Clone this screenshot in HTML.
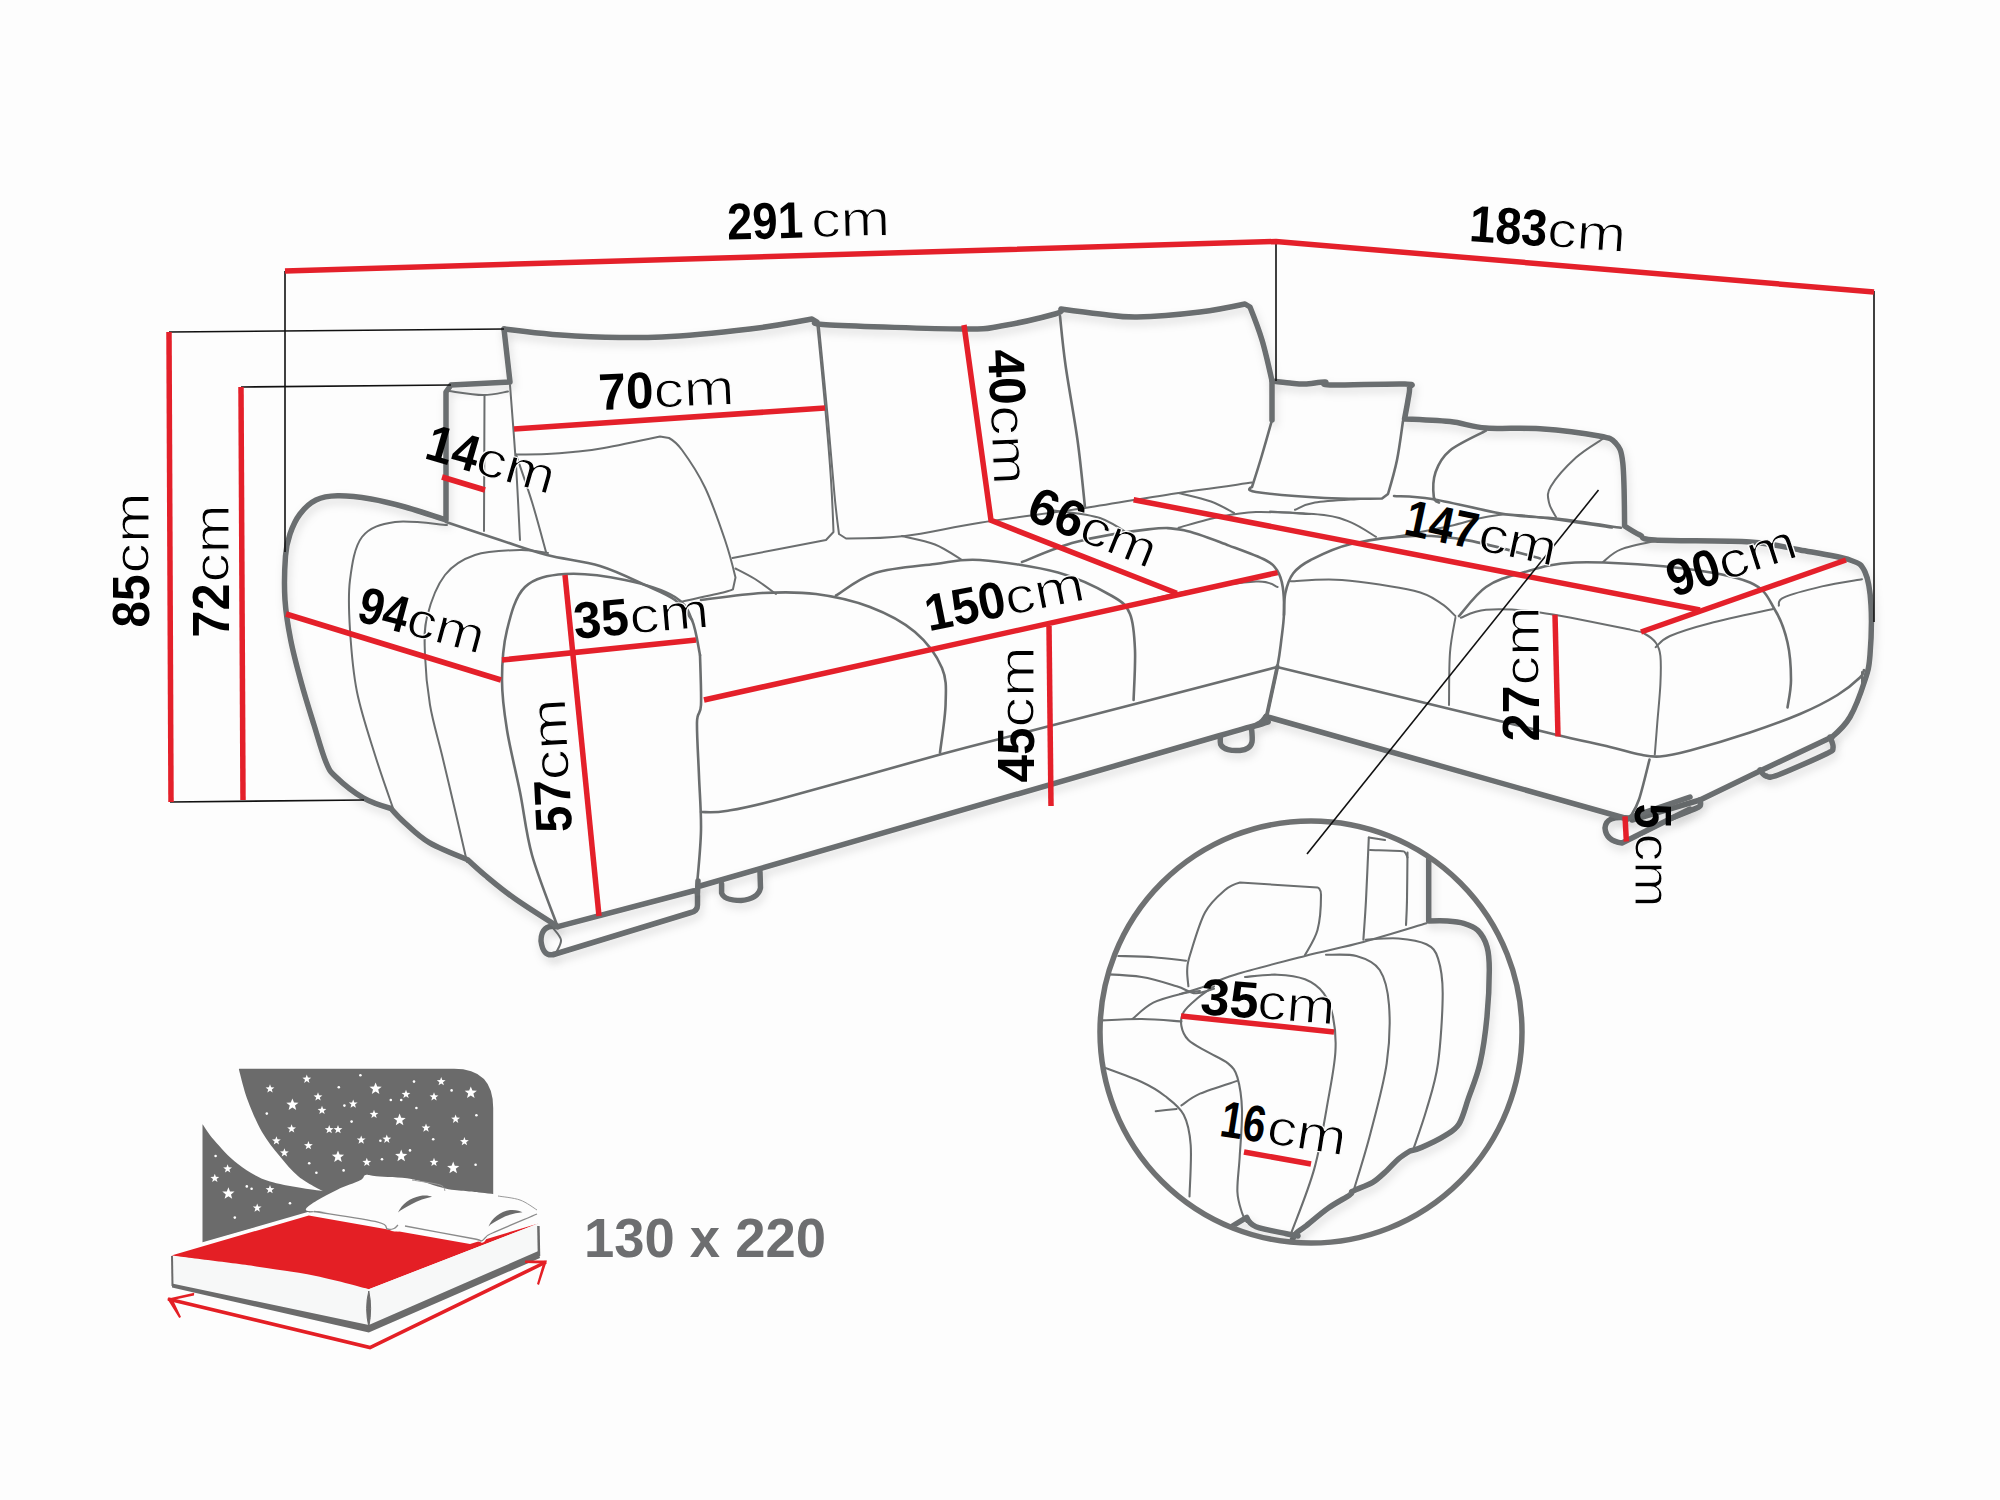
<!DOCTYPE html>
<html><head><meta charset="utf-8">
<style>
html,body{margin:0;padding:0;background:#fdfdfd;width:2000px;height:1500px;overflow:hidden}
svg{display:block}
text{font-family:"Liberation Sans",sans-serif;fill:#000}
.b{font-weight:bold}
.cm{stroke:#fdfdfd;stroke-width:1.1}
.g{fill:none;stroke:#6b6e6f;stroke-linecap:round;stroke-linejoin:round}
.t{stroke-width:5.5;filter:url(#sh)}
.m{stroke-width:2.6}
.s{stroke-width:2}
.c2{stroke-width:2.1}
.c3{stroke-width:3.8}
.r{fill:none;stroke:#e4202a;stroke-width:5.5;stroke-linecap:butt}
.k{fill:none;stroke:#111;stroke-width:1.6}
</style></head>
<body>
<svg width="2000" height="1500" viewBox="0 0 2000 1500">
<defs><filter id="sh" filterUnits="userSpaceOnUse" x="0" y="0" width="2000" height="1500"><feDropShadow dx="2" dy="5" stdDeviation="4" flood-color="#000" flood-opacity="0.13"/></filter></defs>
<rect width="2000" height="1500" fill="#fdfdfd"/>
<g id="sofa"><path class="g t" d="M504 329 C504 329 548.7 334.7 575 336 C601.3 337.3 632.8 338.2 662 337 C691.2 335.8 725 332 750 329 C775 326 812 319 812 319 C812 319 817 322 817 322 C817 322 805.8 323.8 830 325 C854.2 326.2 933.5 328.8 962 329 C990.5 329.2 985.5 328.5 1001 326 C1016.5 323.5 1045 316.8 1055 314 C1065 311.2 1061 309 1061 309 C1061 309 1087.3 312.7 1100 314 C1112.7 315.3 1120.3 317.3 1137 317 C1153.7 316.7 1182 314.2 1200 312 C1218 309.8 1245 304 1245 304 C1245 304 1250 307 1250 307 C1250 307 1258.3 327.7 1262 340 C1265.7 352.3 1272 381 1272 381 C1272 381 1284.5 382.5 1290 383 C1295.5 383.5 1299.2 384.2 1305 384 C1310.8 383.8 1320.8 381.8 1325 382 C1329.2 382.2 1316.7 384.7 1330 385 C1343.3 385.3 1391.8 383.5 1405 384 C1418.2 384.5 1409 385.3 1409.5 388 C1410 390.7 1408.8 394.8 1408 400 C1407.2 405.2 1404.5 419 1404.5 419 C1404.5 419 1436.4 420.1 1450 421.6 C1463.6 423.1 1471 426.8 1486 428 C1501 429.2 1521.2 427.5 1540 428.8 C1558.8 430.1 1586.4 433.6 1599 436 C1611.6 438.4 1611.6 438.5 1615.6 443 C1619.6 447.5 1621.3 449.2 1622.8 463 C1624.3 476.8 1624.6 526 1624.6 526 C1624.6 526 1634.9 532.7 1640 535 C1645.1 537.3 1636.7 538.8 1655 540 C1673.3 541.2 1725.8 540.3 1750 542 C1774.2 543.7 1783.3 547 1800 550 C1816.7 553 1839.2 556.3 1850 560 C1860.8 563.7 1861.5 564.5 1865 572 C1868.5 579.5 1870.2 591.2 1871 605 C1871.8 618.8 1871 642.5 1870 655 C1869 667.5 1868.3 669.7 1865 680 C1861.7 690.3 1855.5 707.5 1850 717 C1844.5 726.5 1832 737 1832 737"/><path class="g t" d="M1832 737 L1762 770 L1700 800 L1632 820"/><path class="g t" d="M1830 737 C1830 737 1833.7 745.2 1833 748 C1832.3 750.8 1835.2 749.5 1826 754 C1816.8 758.5 1788 771.3 1778 775 C1768 778.7 1769 776.8 1766 776 C1763 775.2 1760 770 1760 770"/><path class="g t" d="M1700 800 C1700 800 1701.3 804.3 1700 806 C1698.7 807.7 1696.7 808 1692 810 C1687.3 812 1672 818 1672 818"/><path class="g t" d="M1628 818 Q1606 815 1605 828 Q1606 841 1622 843 L1690 809"/><path class="g t" d="M1631 817 L1690 797"/><path class="g t" d="M1628 819 L1266 716.5"/><path class="g t" d="M1266 716.5 C1266 716.5 1262.7 721.2 1260 723 C1257.3 724.8 1256.7 725.4 1250 727.5 C1243.3 729.6 1311.7 709.1 1220 735.5 C1128.3 761.9 700 886 700 886"/><path class="g t" d="M1251.5 728 C1251.5 728 1252.6 738.7 1252 742 C1251.4 745.3 1250 746.6 1248 748 C1246 749.4 1243.3 750.1 1240 750.4 C1236.7 750.7 1231.2 750.5 1228 749.6 C1224.8 748.7 1222.2 747.3 1221 745 C1219.8 742.7 1220.5 736 1220.5 736"/><path class="g t" d="M721.6 884 L721.6 893 Q724 900.5 741 900.5 Q758 899 760.5 888 L760 872"/><path class="g t" d="M557.8 926.7 L693 891 Q697.5 890 697.5 896 L697.5 905 Q697.5 911 691 912.5 L553.6 954.5"/><path class="g t" d="M697.5 893 L698 881"/><path class="g t" d="M557.8 926.7 Q541 924 541 941 Q543 957 553.6 954.5"/><path class="g s" d="M553 928 C554.3 930 560.5 935.8 561 940 C561.5 944.2 556.8 950.8 556 953"/><path class="g t" d="M557 926 C557 926 526.5 906.8 514.7 898.5 C502.9 890.2 493.8 882.5 486 876 C478.2 869.5 467.7 859.7 467.7 859.7 C467.7 859.7 439.8 848.8 429.3 842.7 C418.9 836.6 411.4 828.7 405 823 C398.6 817.3 390.9 808.5 390.9 808.5 C390.9 808.5 372.4 803.2 363.2 797.9 C354 792.6 341.7 782.5 335.5 776.5 C329.3 770.5 329.5 770.5 325.9 762 C322.3 753.5 318.2 738.5 314.1 725.3 C310 712.1 305.2 696.9 301.3 682.7 C297.4 668.5 293.4 653.8 290.7 640 C288 626.2 285.9 614 285 600 C284.1 586 284.7 567 285.5 556 C286.3 545 287.6 541 290 534 C292.4 527 295.7 519.7 300 514 C304.3 508.3 309.8 503 316 500 C322.2 497 328.3 496 337.5 495.8 C346.7 495.6 359.8 497.1 371 499 C382.2 500.9 392.5 503.5 405 507 C417.5 510.5 446 520 446 520 C446 520 446 392 446 392 C446 392 451 385 451 385 C451 385 510 382 510 382 C510 382 504 329 504 329"/><path class="g s" d="M449 391 C454.7 391.7 473.2 394.9 483 395 C492.8 395.1 503.8 392.1 508 391.5"/><path class="g s" d="M484.5 395 L484 531"/><path class="g s" d="M510 385 C511 398.3 514.3 439.2 516 465 C517.7 490.8 519.3 527.5 520 540"/><path class="g m" d="M446 522 C455 525 483.2 534.5 500 540 C516.8 545.5 530.3 550.7 547 555 C563.7 559.3 583.7 561 600 566 C616.3 571 632.5 579.3 645 585 C657.5 590.7 667.2 594.2 675 600 C682.8 605.8 689.2 616.7 692 620"/><path class="g s" d="M447 525 C438.3 524.5 409.2 520 395 522 C380.8 524 369.5 527.3 362 537 C354.5 546.7 352 564.5 350 580 C348 595.5 348.8 611.3 350 630 C351.2 648.7 352.8 671.2 357 692 C361.2 712.8 368.8 735.2 375 755 C381.2 774.8 390.8 801.7 394 811"/><path class="g s" d="M548 553 C543.3 552.5 532.2 549.7 520 550 C507.8 550.3 487.5 550.8 475 555 C462.5 559.2 453 564.7 445 575 C437 585.3 430.3 603.7 427 617 C423.7 630.3 424.5 640.3 425 655 C425.5 669.7 427.2 688.3 430 705 C432.8 721.7 437.8 737.5 442 755 C446.2 772.5 450.8 792.2 455 810 C459.2 827.8 465 853.3 467 862"/><path class="g m" d="M700 655 C698.7 649.2 696.2 629.7 692 620 C687.8 610.3 686.2 603.7 675 597 C663.8 590.3 643.3 583.8 625 580 C606.7 576.2 581.7 572.8 565 574 C548.3 575.2 534.7 577.7 525 587 C515.3 596.3 510.8 614.5 507 630 C503.2 645.5 502 663.3 502 680 C502 696.7 504 711.3 507 730 C510 748.7 515.8 771.2 520 792 C524.2 812.8 525.8 832.8 532 855 C538.2 877.2 552.8 913.3 557 925"/><path class="g m" d="M700 655 C700.2 663.3 701.5 693.8 701 705 C700.5 716.2 697.3 710.2 697 722 C696.7 733.8 698.3 758 699 776 C699.7 794 701.3 811.8 701 830 C700.7 848.2 697.7 875.8 697 885"/><path class="g s" d="M817 322 C818.3 335.8 822.7 378.7 825 405 C827.3 431.3 829.6 458.8 831 480 C832.4 501.2 833.5 532 833.5 532 C833.5 532 826 540 826 540 C826 540 748.1 555 732.5 558"/><path class="g s" d="M819 327 C820.5 342.5 825.4 392 828 420 C830.6 448 832.7 476 834.5 495 C836.3 514 839 534 839 534 C839 534 846 538.5 846 538.5 C846 538.5 882.7 538.6 905 536 C927.3 533.4 950 527.4 980 522.7 C1010 518 1052.5 512.9 1085 508 C1117.5 503.1 1147.2 497.6 1175 493.4 C1202.8 489.2 1239.2 484.4 1252 482.6"/><path class="g m" d="M1060 316 C1060.9 324.2 1062.6 344.3 1065.5 365 C1068.4 385.7 1074.2 416.2 1077.5 440 C1080.8 463.8 1083.8 496.2 1085 507.5"/><path class="g m" d="M1272 420 C1270.3 425.8 1265.3 443.8 1262 455 C1258.7 466.2 1252 487 1252 487 C1252 487 1243.8 490.2 1256 492 C1268.2 493.8 1304 496.9 1325 498 C1346 499.1 1382 498.5 1382 498.5 C1382 498.5 1388 494 1388 494 C1388 494 1394.5 472.2 1397 460 C1399.5 447.8 1402 427.5 1403 421"/><path class="g t" d="M1272 381 L1272 420"/><path class="g s" d="M516 454.5 C516 454.5 537.5 454.4 547 454 C556.5 453.6 563.5 453 573 452 C582.5 451 589.5 450.6 604 448 C618.5 445.4 660 436.5 660 436.5 C660 436.5 669 438 669 438 C669 438 676 441.8 682 450 C688 458.2 697.8 472.5 705 487.5 C712.2 502.5 719.9 525 725 540 C730.1 555 735.5 577.5 735.5 577.5 C735.5 577.5 733 589 733 589 C733 589 733.8 589.8 725 592 C716.2 594.2 687.5 600.3 680 602"/><path class="g s" d="M516 454.5 C518.7 462.4 527 485.8 532 502 C537 518.2 543.7 543.7 546 552"/><path class="g m" d="M701 600 C711.2 598.8 742.8 594 762 593 C781.2 592 798 591.7 816 594 C834 596.3 853.5 600.7 870 607 C886.5 613.3 903 621.8 915 632 C927 642.2 936.9 656 942 668 C947.1 680 945.9 689.9 945.6 704 C945.3 718.1 940.9 744.5 940 752.6"/><path class="g s" d="M735.5 568.5 C738.8 570.2 748.2 574.8 755 579 C761.8 583.2 772.5 591.5 776 594"/><path class="g m" d="M836 595.5 C842.5 591.8 858.5 578.2 875 573 C891.5 567.8 917.5 566.2 935 564 C952.5 561.8 959.5 558.6 980 560 C1000.5 561.4 1036 566.6 1058 572.6 C1080 578.6 1100 589.1 1112 596 C1124 602.9 1126.2 605 1130 614 C1133.8 623 1134.4 635.7 1135 650 C1135.6 664.3 1133.8 691.7 1133.6 700"/><path class="g s" d="M902 536 C907.5 537.4 925 540.5 935 544.5 C945 548.5 957.5 557.4 962 560"/><path class="g m" d="M1022 562 C1031 558.7 1055 547.4 1076 542 C1097 536.6 1130 531.4 1148 529.4 C1166 527.4 1170.5 527.6 1184 530.3 C1197.5 533 1215.5 540.6 1229 545.6 C1242.5 550.6 1257.2 555.8 1265.3 560 C1273.3 564.2 1274.4 566.2 1277.3 570.7 C1280.2 575.2 1281.6 579.6 1282.7 586.7 C1283.8 593.8 1284.2 604.4 1284 613.3 C1283.8 622.2 1282.4 631.2 1281.3 640 C1280.2 648.8 1279.9 653.3 1277.5 666 C1275.1 678.7 1268.5 707.7 1266.7 716"/><path class="g c3" d="M1277.5 666 L1266.7 716"/><path class="g s" d="M1137 603 C1144.8 601.2 1164.2 595.6 1184 592 C1203.8 588.4 1240.4 582.4 1256 581.6 C1271.6 580.8 1274 586.1 1277.6 587"/><path class="g s" d="M1054 510.5 C1061.7 511.8 1086.5 513.4 1100 518 C1113.5 522.6 1129.2 534.7 1135 538"/><path class="g s" d="M1178.6 527.6 C1185.5 525.8 1207.1 519.4 1220 516.8 C1232.9 514.2 1241 512.5 1256 512 C1271 511.5 1301 513.7 1310 514"/><path class="g s" d="M1178.6 493 C1184 494.4 1201.8 498.2 1211 501.5 C1220.2 504.8 1230.2 511.1 1234 513"/><path class="g m" d="M701 812 C705.2 811.8 712.8 813.2 726 811 C739.2 808.8 744 808.5 780 799 C816 789.5 898.7 765.7 942 754 C985.3 742.3 984.2 743.1 1040 728.6 C1095.8 714.1 1277 667 1277 667 C1277 667 1403.7 697.8 1450 709 C1496.3 720.2 1528.3 728.1 1555 734.4 C1581.7 740.7 1595.8 743.6 1610 747 C1624.2 750.4 1631.7 752.9 1640 754.5 C1648.3 756.1 1651.7 757.2 1660 756.5 C1668.3 755.8 1675 754.5 1690 750.5 C1705 746.5 1731.7 738.6 1750 732.5 C1768.3 726.4 1785.4 720.2 1800 714 C1814.6 707.8 1827.5 701.1 1837.5 695 C1847.5 688.9 1855.6 681.7 1860 677.5 C1864.4 673.3 1863.3 671.2 1864 670"/><path class="g m" d="M1284 615 C1284.2 611.4 1283.8 600.2 1285.3 593.3 C1286.8 586.3 1289.1 578.8 1293.3 573.3 C1297.5 567.8 1301.1 564.9 1310.7 560 C1320.3 555.1 1333.8 548 1351 544 C1368.2 540 1394.5 536.5 1414 535.9 C1433.5 535.3 1447 536.6 1468 540.4 C1489 544.1 1528 555.4 1540 558.4"/><path class="g s" d="M1290.7 581.3 C1299.2 581.1 1321.5 578.4 1342 580 C1362.5 581.6 1397.5 586.9 1414 590.8 C1430.5 594.7 1434.1 599.2 1441 603.4 C1447.9 607.6 1453 613.9 1455.4 616"/><path class="g s" d="M1295 509.8 C1298.3 508.6 1304.2 504.4 1315 502.6 C1325.8 500.8 1352.5 499.6 1360 499"/><path class="g s" d="M1270 511.6 C1279 512.2 1310.5 513.2 1324 515 C1337.5 516.8 1342.3 518.8 1351 522.4 C1359.7 526 1371.8 534.4 1376 536.8"/><path class="g s" d="M1396 536.8 C1405 535 1435 529.3 1450 526 C1465 522.7 1474 518.8 1486 517 C1498 515.2 1501 513.4 1522 515.2 C1543 517 1597 525.7 1612 527.8"/><path class="g m" d="M1394 496 C1400.3 496.5 1413.7 496 1432 499 C1450.3 502 1483 510.7 1504 514 C1525 517.3 1538.5 516.5 1558 518.8 C1577.5 521.1 1610.5 526.3 1621 527.8"/><path class="g m" d="M1486 430.6 C1480 433.9 1458.4 443.5 1450 450.4 C1441.6 457.3 1438.3 464.2 1435.6 472 C1432.9 479.8 1433.2 491.9 1433.8 497 C1434.4 502.1 1438.1 501.7 1439 502.6"/><path class="g s" d="M1603 438.7 C1598.5 441.9 1584.7 449.7 1576 457.6 C1567.3 465.6 1555.3 478.9 1550.8 486.4 C1546.3 493.9 1548.1 497.5 1549 502.6 C1549.9 507.7 1554.8 514.6 1556 517"/><path class="g m" d="M1459 616 C1463.5 611.2 1475.5 594.2 1486 587 C1496.5 579.8 1507.2 576.9 1522 572.8 C1536.8 568.7 1549.5 563.4 1575 562.5 C1600.5 561.6 1645.8 564.2 1675 567.5 C1704.2 570.8 1733.3 575.4 1750 582.5 C1766.7 589.6 1768.8 600 1775 610 C1781.2 620 1784.8 630.8 1787.5 642.5 C1790.2 654.2 1791 669.2 1791 680 C1791 690.8 1788.1 702.9 1787.5 707.5"/><path class="g s" d="M1455.4 617.8 C1454.5 623.6 1451.1 638 1450 652.5 C1448.9 667 1449.2 696.2 1449 705"/><path class="g s" d="M1460.8 617.8 C1465 616.4 1472.8 610.6 1486 609.7 C1499.2 608.8 1516 609.1 1540 612.4 C1564 615.7 1612.5 626 1630 629.6 C1647.5 633.2 1640.7 631.8 1645 634 C1649.3 636.2 1653.4 639.3 1656 643 C1658.6 646.7 1659.7 649.2 1660.4 656 C1661.1 662.8 1660.9 672.7 1660.4 684 C1659.9 695.3 1658.1 712.3 1657.2 724 C1656.3 735.7 1655.2 749.3 1654.8 754.4"/><path class="g s" d="M1603 562 C1606 559.9 1611.5 553.1 1621 549.4 C1630.5 545.7 1653.5 541.6 1660 540"/><path class="g s" d="M1655.6 647.2 C1658 645.3 1660.9 640 1670 636 C1679.1 632 1692.7 627.7 1710 623.2 C1727.3 618.7 1763.3 611.2 1774 608.8"/><path class="g s" d="M1778.8 605.6 C1779.6 604.3 1776.4 600.8 1783.6 597.6 C1790.8 594.4 1808.9 589.5 1822 586.4 C1835.1 583.3 1855.3 580.4 1862 579.2"/><path class="g m" d="M1649.5 759.6 C1647.8 766.2 1642.2 790 1639 799.5 C1635.8 809 1632 813.5 1630.6 816.3"/><path class="g s" d="M1862 672 C1862 674.2 1862 682.8 1862 685"/></g>
<defs><clipPath id="cc"><circle cx="1311" cy="1032" r="209"/></clipPath></defs><g clip-path="url(#cc)"><path class="g t" d="M1428.7 820 C1428.7 820 1428.7 921 1428.7 921 C1428.7 921 1441.6 920.6 1447.4 921 C1453.2 921.4 1458.7 921.8 1463.7 923.3 C1468.8 924.8 1473.8 926.4 1477.7 930.3 C1481.6 934.2 1485.1 940.1 1487 946.7 C1488.9 953.3 1489.3 958.3 1489.3 970 C1489.3 981.7 1488.5 1001.1 1487 1016.7 C1485.5 1032.3 1483.1 1049.8 1480 1063.4 C1476.9 1077 1471.9 1088.3 1468.4 1098.4 C1464.9 1108.5 1462.9 1117.8 1459 1124 C1455.1 1130.2 1451.2 1131.8 1445 1135.7 C1438.8 1139.6 1427.5 1144.9 1421.7 1147.4 C1415.9 1150 1410 1151 1410 1151 C1410 1151 1402.3 1155.7 1398.4 1159 C1394.5 1162.3 1391 1166.8 1386.7 1170.7 C1382.4 1174.6 1377.8 1179.3 1372.7 1182.4 C1367.7 1185.5 1359.9 1187.9 1356.4 1189.4 C1352.9 1191 1351.7 1191.7 1351.7 1191.7 C1351.7 1191.7 1353.3 1192.5 1349.4 1195.2 C1345.5 1197.9 1335.8 1202.8 1328.4 1208 C1321 1213.2 1310.5 1222.4 1305 1226.7 C1299.5 1231 1298.2 1230.7 1295.7 1233.7 C1293.2 1236.8 1291 1243.1 1290 1245"/><path class="g t" d="M1226 1230 C1226 1230 1246.7 1217.4 1246.7 1217.4 C1246.7 1217.4 1249.4 1224 1256 1226.7 C1262.6 1229.4 1279.4 1232.2 1286.4 1233.7 C1293.4 1235.2 1296.1 1235.6 1298 1236"/><path class="g s" d="M1426.4 923.3 C1415.9 926.4 1383.6 936.5 1363.4 942 C1343.2 947.5 1326.4 950.5 1305 956 C1283.6 961.5 1252.5 969.4 1235 974.7 C1217.5 980 1209.2 984.8 1200 988 C1190.8 991.2 1183.3 993 1180 994"/><path class="g c2" d="M1365.7 939.7 C1371.2 939.5 1388.3 937.7 1398.4 938.5 C1408.5 939.3 1419.8 941 1426.4 944.3 C1433 947.6 1435.3 950.1 1438 958.3 C1440.7 966.5 1442.7 975.8 1442.7 993.3 C1442.7 1010.8 1440.7 1044 1438 1063.4 C1435.3 1082.9 1430.7 1095.2 1426.4 1110 C1422.1 1124.8 1414.7 1145 1412.4 1152"/><path class="g c2" d="M1326 954.8 C1331.1 955 1347.5 953.5 1356.4 956 C1365.4 958.5 1374.3 961.8 1379.7 970 C1385.1 978.2 1387.8 989.4 1389 1005 C1390.2 1020.6 1389.8 1042 1386.7 1063.4 C1383.6 1084.8 1375.9 1112.4 1370.4 1133.4 C1365 1154.4 1356.7 1180.1 1354 1189.4"/><path class="g c2" d="M1245 977 C1250.3 976.6 1267 974.3 1277 974.7 C1287 975.1 1297.2 976.2 1305 979.3 C1312.8 982.4 1319 987.1 1323.7 993.3 C1328.4 999.5 1331 1007 1333 1016.7 C1335 1026.4 1336.2 1038.1 1335.4 1051.7 C1334.6 1065.3 1331.9 1079 1328.4 1098.4 C1324.9 1117.9 1320.6 1145.9 1314.4 1168.4 C1308.2 1191 1294.9 1222.8 1291 1233.7"/><path class="g c2" d="M1214 986.3 C1211.3 988.2 1202.8 993.7 1197.7 998 C1192.7 1002.3 1186.4 1007.3 1183.7 1012 C1181 1016.7 1180.6 1021.3 1181.4 1026 C1182.2 1030.7 1184.1 1035.7 1188.4 1040 C1192.7 1044.3 1200.4 1047.8 1207 1051.7 C1213.6 1055.6 1222.9 1059.1 1228 1063.4 C1233.1 1067.7 1235.1 1069.6 1237.4 1077.4 C1239.7 1085.2 1241.6 1096.8 1242 1110 C1242.4 1123.2 1240.5 1143.1 1239.7 1156.7 C1238.9 1170.3 1237 1182.4 1237.4 1191.7 C1237.8 1201 1240.5 1207.7 1242 1212.7 C1243.5 1217.8 1245.9 1220.5 1246.7 1222"/><path class="g c2" d="M1118.3 956 C1124.1 956.2 1142 956.4 1153.3 957.2 C1164.6 958 1180.5 960.1 1186 960.7"/><path class="g c2" d="M1100 974 C1107 974.5 1128.9 975 1141.7 977 C1154.5 979 1167.8 983.6 1176.7 986.3 C1185.7 989 1189.2 992.9 1195.4 993.3 C1201.6 993.7 1210.9 989.5 1214 988.7"/><path class="g s" d="M1132.3 1019 C1135.8 1016.3 1144.7 1007 1153.3 1002.7 C1161.9 998.4 1175.9 995.2 1183.7 993.3 C1191.5 991.3 1197.3 991.4 1200 991"/><path class="g c2" d="M1100 1020.5 C1107 1020.2 1128.1 1018.9 1141.7 1019 C1155.3 1019.1 1174.8 1021 1181.4 1021.4"/><path class="g c2" d="M1100 1066 C1107 1068.7 1130.9 1077 1141.7 1082 C1152.5 1087 1158 1090.5 1165 1096 C1172 1101.5 1179.4 1106.5 1183.7 1114.7 C1188 1122.9 1189.7 1131.4 1190.7 1145 C1191.7 1158.6 1189.7 1187.8 1189.5 1196.4"/><path class="g s" d="M1181.4 1105.4 C1184.5 1103.5 1190.7 1097.8 1200 1093.7 C1209.3 1089.6 1231.2 1083 1237.4 1080.9"/><path class="g s" d="M1155.7 1111.2 C1159.2 1110.8 1173.2 1109.3 1176.7 1108.9"/><path class="g c2" d="M1188.4 986.3 C1188.2 983.6 1186.9 975.2 1187.2 970 C1187.5 964.8 1187 964.6 1190 955 C1193 945.4 1199.2 923.3 1205 912.5 C1210.8 901.7 1219.2 895 1225 890 C1230.8 885 1240 882.5 1240 882.5 C1240 882.5 1317.5 887.5 1317.5 887.5 C1317.5 887.5 1321 887.9 1321 895 C1321 902.1 1320.2 920 1317.5 930 C1314.8 940 1307.1 950.8 1305 955"/><path class="g c2" d="M1368.8 837.5 C1368.3 847.9 1366.9 883 1366 900 C1365.1 917 1363.8 933.1 1363.4 939.7"/><path class="g c2" d="M1407.5 852.5 C1407.4 860.4 1407.2 887.9 1407 900 C1406.8 912.1 1406.2 920.8 1406 925"/><path class="g s" d="M1368.8 837.5 C1371.5 837.9 1382.3 839.6 1385 840"/><path class="g s" d="M1370 850 C1375 850.2 1394.2 850.6 1400 851 C1405.8 851.4 1403.8 851.4 1405 852.5 C1406.2 853.6 1407.1 856.7 1407.5 857.5"/></g><circle cx="1311" cy="1032" r="211" fill="none" stroke="#6f7172" stroke-width="5.5"/><path class="r" d="M1181 1016 L1334 1032"/><path class="r" d="M1244 1152 L1311 1164"/>
<path d="M238.8 1068.8 L454 1068.8 Q493.2 1068.8 493.2 1108 L493.2 1200 L308.8 1212.4 L202.5 1243 L202.5 1124 Z" fill="#6b6b6b"/><path d="M238.8 1068.8 C238.8 1068.8 243.7 1089.5 247.6 1100 C251.5 1110.5 256.7 1122.7 262 1132 C267.3 1141.3 273.5 1148.5 279.6 1156 C285.7 1163.5 291.6 1170.9 298.8 1176.8 C306 1182.7 323 1191.2 323 1191.2 C323 1191.2 284.2 1186.1 270 1181.6 C255.8 1177.1 247.3 1170.9 238 1164 C228.7 1157.1 219.9 1146.7 214 1140 C208.1 1133.3 202.5 1124 202.5 1124 C202.5 1124 198.8 1134.7 198 1124 C197.2 1113.3 191.2 1070.7 198 1060 C204.8 1049.3 232 1058.5 238.8 1060 C245.6 1061.5 238.8 1068.8 238.8 1068.8Z" fill="#fdfdfd"/><path d="M270 1084.2 L271.1 1087.2 L274.4 1087.4 L271.8 1089.4 L272.7 1092.5 L270 1090.7 L267.3 1092.5 L268.2 1089.4 L265.6 1087.4 L268.9 1087.2Z" fill="#fff"/><path d="M306.8 1074.6 L307.9 1077.6 L311.2 1077.8 L308.6 1079.8 L309.5 1082.9 L306.8 1081.1 L304.1 1082.9 L305 1079.8 L302.4 1077.8 L305.7 1077.6Z" fill="#fff"/><path d="M375.6 1082.4 L377.2 1086.6 L381.7 1086.8 L378.2 1089.6 L379.4 1094 L375.6 1091.5 L371.8 1094 L373 1089.6 L369.5 1086.8 L374 1086.6Z" fill="#fff"/><path d="M406 1089.8 L407.1 1092.8 L410.4 1093 L407.8 1095 L408.7 1098.1 L406 1096.3 L403.3 1098.1 L404.2 1095 L401.6 1093 L404.9 1092.8Z" fill="#fff"/><path d="M441.2 1077 L442.3 1080 L445.6 1080.2 L443 1082.2 L443.9 1085.3 L441.2 1083.5 L438.5 1085.3 L439.4 1082.2 L436.8 1080.2 L440.1 1080Z" fill="#fff"/><path d="M470.8 1086.4 L472.4 1090.6 L476.9 1090.8 L473.4 1093.6 L474.6 1098 L470.8 1095.5 L467 1098 L468.2 1093.6 L464.7 1090.8 L469.2 1090.6Z" fill="#fff"/><path d="M292.4 1098.4 L294 1102.6 L298.5 1102.8 L295 1105.6 L296.2 1110 L292.4 1107.5 L288.6 1110 L289.8 1105.6 L286.3 1102.8 L290.8 1102.6Z" fill="#fff"/><path d="M318 1092.2 L319.1 1095.2 L322.4 1095.4 L319.8 1097.4 L320.7 1100.5 L318 1098.7 L315.3 1100.5 L316.2 1097.4 L313.6 1095.4 L316.9 1095.2Z" fill="#fff"/><path d="M353.2 1099.4 L354.3 1102.4 L357.6 1102.6 L355 1104.6 L355.9 1107.7 L353.2 1105.9 L350.5 1107.7 L351.4 1104.6 L348.8 1102.6 L352.1 1102.4Z" fill="#fff"/><path d="M322 1105.8 L323.1 1108.8 L326.4 1109 L323.8 1111 L324.7 1114.1 L322 1112.3 L319.3 1114.1 L320.2 1111 L317.6 1109 L320.9 1108.8Z" fill="#fff"/><path d="M374 1109.8 L375.1 1112.8 L378.4 1113 L375.8 1115 L376.7 1118.1 L374 1116.3 L371.3 1118.1 L372.2 1115 L369.6 1113 L372.9 1112.8Z" fill="#fff"/><path d="M399.6 1113.6 L401.2 1117.8 L405.7 1118 L402.2 1120.8 L403.4 1125.2 L399.6 1122.7 L395.8 1125.2 L397 1120.8 L393.5 1118 L398 1117.8Z" fill="#fff"/><path d="M434 1092.2 L435.1 1095.2 L438.4 1095.4 L435.8 1097.4 L436.7 1100.5 L434 1098.7 L431.3 1100.5 L432.2 1097.4 L429.6 1095.4 L432.9 1095.2Z" fill="#fff"/><path d="M455.6 1114.6 L456.7 1117.6 L460 1117.8 L457.4 1119.8 L458.3 1122.9 L455.6 1121.1 L452.9 1122.9 L453.8 1119.8 L451.2 1117.8 L454.5 1117.6Z" fill="#fff"/><path d="M291.6 1124.2 L292.7 1127.2 L296 1127.4 L293.4 1129.4 L294.3 1132.5 L291.6 1130.7 L288.9 1132.5 L289.8 1129.4 L287.2 1127.4 L290.5 1127.2Z" fill="#fff"/><path d="M329.2 1125 L330.3 1128 L333.6 1128.2 L331 1130.2 L331.9 1133.3 L329.2 1131.5 L326.5 1133.3 L327.4 1130.2 L324.8 1128.2 L328.1 1128Z" fill="#fff"/><path d="M338 1125 L339.1 1128 L342.4 1128.2 L339.8 1130.2 L340.7 1133.3 L338 1131.5 L335.3 1133.3 L336.2 1130.2 L333.6 1128.2 L336.9 1128Z" fill="#fff"/><path d="M426 1123.4 L427.1 1126.4 L430.4 1126.6 L427.8 1128.6 L428.7 1131.7 L426 1129.9 L423.3 1131.7 L424.2 1128.6 L421.6 1126.6 L424.9 1126.4Z" fill="#fff"/><path d="M276.4 1136.2 L277.5 1139.2 L280.8 1139.4 L278.2 1141.4 L279.1 1144.5 L276.4 1142.7 L273.7 1144.5 L274.6 1141.4 L272 1139.4 L275.3 1139.2Z" fill="#fff"/><path d="M308.4 1141 L309.5 1144 L312.8 1144.2 L310.2 1146.2 L311.1 1149.3 L308.4 1147.5 L305.7 1149.3 L306.6 1146.2 L304 1144.2 L307.3 1144Z" fill="#fff"/><path d="M361.2 1135.4 L362.3 1138.4 L365.6 1138.6 L363 1140.6 L363.9 1143.7 L361.2 1141.9 L358.5 1143.7 L359.4 1140.6 L356.8 1138.6 L360.1 1138.4Z" fill="#fff"/><path d="M386.8 1134.6 L387.9 1137.6 L391.2 1137.8 L388.6 1139.8 L389.5 1142.9 L386.8 1141.1 L384.1 1142.9 L385 1139.8 L382.4 1137.8 L385.7 1137.6Z" fill="#fff"/><path d="M464.4 1137 L465.5 1140 L468.8 1140.2 L466.2 1142.2 L467.1 1145.3 L464.4 1143.5 L461.7 1145.3 L462.6 1142.2 L460 1140.2 L463.3 1140Z" fill="#fff"/><path d="M284.4 1148.2 L285.5 1151.2 L288.8 1151.4 L286.2 1153.4 L287.1 1156.5 L284.4 1154.7 L281.7 1156.5 L282.6 1153.4 L280 1151.4 L283.3 1151.2Z" fill="#fff"/><path d="M338 1150.4 L339.6 1154.6 L344.1 1154.8 L340.6 1157.6 L341.8 1162 L338 1159.5 L334.2 1162 L335.4 1157.6 L331.9 1154.8 L336.4 1154.6Z" fill="#fff"/><path d="M366.8 1157.8 L367.9 1160.8 L371.2 1161 L368.6 1163 L369.5 1166.1 L366.8 1164.3 L364.1 1166.1 L365 1163 L362.4 1161 L365.7 1160.8Z" fill="#fff"/><path d="M401.2 1149.6 L402.8 1153.8 L407.3 1154 L403.8 1156.8 L405 1161.2 L401.2 1158.7 L397.4 1161.2 L398.6 1156.8 L395.1 1154 L399.6 1153.8Z" fill="#fff"/><path d="M434 1157.8 L435.1 1160.8 L438.4 1161 L435.8 1163 L436.7 1166.1 L434 1164.3 L431.3 1166.1 L432.2 1163 L429.6 1161 L432.9 1160.8Z" fill="#fff"/><path d="M453.2 1161.6 L454.8 1165.8 L459.3 1166 L455.8 1168.8 L457 1173.2 L453.2 1170.7 L449.4 1173.2 L450.6 1168.8 L447.1 1166 L451.6 1165.8Z" fill="#fff"/><path d="M227.6 1164.2 L228.7 1167.2 L232 1167.4 L229.4 1169.4 L230.3 1172.5 L227.6 1170.7 L224.9 1172.5 L225.8 1169.4 L223.2 1167.4 L226.5 1167.2Z" fill="#fff"/><path d="M214.8 1173.8 L215.9 1176.8 L219.2 1177 L216.6 1179 L217.5 1182.1 L214.8 1180.3 L212.1 1182.1 L213 1179 L210.4 1177 L213.7 1176.8Z" fill="#fff"/><path d="M228.4 1187.2 L230 1191.4 L234.5 1191.6 L231 1194.4 L232.2 1198.8 L228.4 1196.3 L224.6 1198.8 L225.8 1194.4 L222.3 1191.6 L226.8 1191.4Z" fill="#fff"/><path d="M270 1185 L271.1 1188 L274.4 1188.2 L271.8 1190.2 L272.7 1193.3 L270 1191.5 L267.3 1193.3 L268.2 1190.2 L265.6 1188.2 L268.9 1188Z" fill="#fff"/><path d="M257.2 1203.4 L258.3 1206.4 L261.6 1206.6 L259 1208.6 L259.9 1211.7 L257.2 1209.9 L254.5 1211.7 L255.4 1208.6 L252.8 1206.6 L256.1 1206.4Z" fill="#fff"/><circle cx="360.4" cy="1075.2" r="1.3" fill="#fff"/><circle cx="338.8" cy="1087.2" r="1.3" fill="#fff"/><circle cx="414" cy="1081.6" r="1.3" fill="#fff"/><circle cx="451.6" cy="1090.4" r="1.3" fill="#fff"/><circle cx="390.8" cy="1100" r="1.3" fill="#fff"/><circle cx="401.2" cy="1100" r="1.3" fill="#fff"/><circle cx="344.4" cy="1105.6" r="1.3" fill="#fff"/><circle cx="416.4" cy="1108" r="1.3" fill="#fff"/><circle cx="266.8" cy="1113.6" r="1.3" fill="#fff"/><circle cx="351.6" cy="1121.6" r="1.3" fill="#fff"/><circle cx="476.4" cy="1115.2" r="1.3" fill="#fff"/><circle cx="433.2" cy="1139.2" r="1.3" fill="#fff"/><circle cx="380.4" cy="1140.8" r="1.3" fill="#fff"/><circle cx="410" cy="1150.4" r="1.3" fill="#fff"/><circle cx="382" cy="1159.2" r="1.3" fill="#fff"/><circle cx="309.2" cy="1163.2" r="1.3" fill="#fff"/><circle cx="343.6" cy="1170.4" r="1.3" fill="#fff"/><circle cx="316.4" cy="1172.8" r="1.3" fill="#fff"/><circle cx="475.6" cy="1164.8" r="1.3" fill="#fff"/><circle cx="215.6" cy="1156" r="1.3" fill="#fff"/><circle cx="246.8" cy="1186.4" r="1.3" fill="#fff"/><circle cx="251.6" cy="1188.8" r="1.3" fill="#fff"/><circle cx="290" cy="1203.2" r="1.3" fill="#fff"/><circle cx="234.8" cy="1217.6" r="1.3" fill="#fff"/><path d="M168 1254 L309 1213.5" fill="none" stroke="#fdfdfd" stroke-width="3.5"/><path d="M171.4 1255.6 L308.8 1215.4 L470 1244 L538.4 1223.5 L368.8 1289.2Z" fill="#e41f25"/><path d="M171.4 1255.6 C171.4 1255.6 231.9 1263 256 1266.4 C280.1 1269.8 297.2 1272.2 316 1276 C334.8 1279.8 368.8 1289.2 368.8 1289.2 C368.8 1289.2 368.8 1326 368.8 1326 C368.8 1326 172 1284.4 172 1284.4 C172 1284.4 171.4 1255.6 171.4 1255.6Z" fill="#f7f8f8"/><path d="M368.8 1289.2 L538.4 1223.5 L538.4 1252 L368.8 1326Z" fill="#f7f8f8"/><path d="M172 1283.5 L368.8 1325 L538.4 1251 L540 1258 L368.8 1332.5 L172 1287.5Z" fill="#6b6b6b"/><path d="M172 1256 L172.5 1286" stroke="#6b6b6b" stroke-width="2" fill="none"/><path d="M538.4 1226 L539 1256" stroke="#6b6b6b" stroke-width="2.5" fill="none"/><path d="M368.8 1291 Q364.5 1308 368.8 1327 Q372.5 1308 368.8 1291Z" fill="#6b6b6b" stroke="#6b6b6b" stroke-width="1"/><path d="M306.2 1208.6 C307.3 1206.8 311.8 1203.7 317 1200.5 C322.2 1197.3 330.1 1193.1 337.3 1189.7 C344.5 1186.3 355.5 1182.8 360.2 1180.3 C364.9 1177.8 362.9 1175.6 365.6 1174.9 C368.3 1174.2 368.8 1175.5 376.4 1176.2 C384 1176.9 400 1176.9 411.5 1178.9 C423 1180.9 436.3 1186.4 445.3 1188.4 C454.3 1190.4 459.9 1190.3 465.5 1191 C471.1 1191.7 472.2 1191.5 479 1192.4 C485.8 1193.3 495.9 1193.6 506 1196.5 C516.1 1199.4 534.2 1207.1 539.8 1210 C545.4 1212.9 540.9 1212.4 539.8 1214 C538.7 1215.6 540.9 1216 533 1219.4 C525.1 1222.8 500.8 1230.5 492.5 1234.3 C484.2 1238.1 486.4 1241.5 483 1242.4 C479.6 1243.3 484.2 1242.2 472.3 1239.7 C460.4 1237.2 423.9 1228.8 411.5 1227.5 C399.1 1226.2 402.1 1231.4 398 1231.6 C393.9 1231.8 390.6 1230.5 387.2 1228.9 C383.8 1227.3 387.2 1224.8 377.8 1222.1 C368.4 1219.4 341.8 1214.5 330.5 1212.7 C319.2 1210.9 314.4 1212 310.3 1211.3 C306.2 1210.6 305.1 1210.4 306.2 1208.6Z" fill="#fdfdfd"/><path d="M314 1211.5 C324.6 1213.3 365.6 1219.2 377.8 1222.1 C390 1225 384.5 1227.8 387.2 1228.9 C389.9 1230 392.2 1229.2 394 1228.5 C395.8 1227.8 397.3 1225.6 398 1225" fill="none" stroke="#8a8a8a" stroke-width="1.3"/><path d="M405 1226 C416.2 1228.1 459.6 1236 472.3 1238.5 C485 1241 478.7 1241.2 481 1241 C483.3 1240.8 484.1 1238.3 486 1237 C487.9 1235.7 484 1236.8 492.5 1233 C501 1229.2 529.6 1217.2 537 1214" fill="none" stroke="#8a8a8a" stroke-width="1.3"/><path d="M498 1196 C501.7 1196.7 513.5 1197.7 520 1200 C526.5 1202.3 534.2 1208.3 537 1210" fill="none" stroke="#9a9a9a" stroke-width="1"/><path d="M412 1180 C416.7 1180.8 434.5 1183.2 440 1185 C445.5 1186.8 444.2 1190 445 1191" fill="none" stroke="#9a9a9a" stroke-width="1"/><path d="M398 1212.5 C402 1204 410 1198 420 1196 C426 1195 430 1196 432 1196.8 C426 1198 418 1200.5 411 1204.5 C405 1207.5 401 1210 398 1212.5Z" fill="#6b6b6b"/><path d="M488.5 1226.5 C492 1218 500 1211.5 510 1210 C516 1209.5 520 1211 522.5 1212.3 C516 1213 508 1214.5 501 1218.5 C495 1221.5 491 1224 488.5 1226.5Z" fill="#6b6b6b"/><path d="M168 1299 L370 1347.5 L546 1262" fill="none" stroke="#e41f25" stroke-width="3.6" stroke-linejoin="miter"/><path d="M194.2 1292.8 L167.2 1298.8 L179.2 1318 L181 1317 L173 1300 L194 1295.5Z" fill="#e41f25"/><path d="M525 1260.5 L547 1260.5 L539 1285 L537 1284 L543 1263.5 L525 1263Z" fill="#e41f25"/>
<g id="dims"><path class="k" d="M285 271 L285 552"/><path class="k" d="M1276 241 L1276 381"/><path class="k" d="M1874 291 L1874 622"/><path class="k" d="M169 332 L504 329"/><path class="k" d="M241 387 L451 385"/><path class="k" d="M170 802 L364 800"/><path class="r" d="M285 271 L1276 241.5 L1874 292"/><path class="r" d="M169 332 L171 802"/><path class="r" d="M241 387 L243 800"/><path class="r" d="M514 429 L825 408"/><path class="r" d="M442 477 L485 490"/><path class="r" d="M964 325 L991 520.4 L1176.8 593.3"/><path class="r" d="M704 700 L1277.6 572.6"/><path class="r" d="M1049 626 L1051 806"/><path class="r" d="M502 660 L696 640"/><path class="r" d="M565 575 L599 916"/><path class="r" d="M286 614 L501 680"/><path class="r" d="M1133.6 499.7 L1700 610"/><path class="r" d="M1641 632 L1846 560"/><path class="r" d="M1555 614.7 L1558 736.5"/><path class="r" d="M1625 816.3 L1626.4 841.5"/><path class="k" d="M1598.5 490 L1307 854"/></g>
<g id="txt"><g transform="translate(729 239.5) rotate(-1.5)"><text class="b" x="-1.5" y="0" font-size="51.5" textLength="76" lengthAdjust="spacingAndGlyphs">291</text><text class="cm" x="82.5" y="0" font-size="50" textLength="79" lengthAdjust="spacingAndGlyphs">cm</text></g><g transform="translate(1470 241) rotate(4)"><text class="b" x="-1.5" y="0" font-size="51.5" textLength="78" lengthAdjust="spacingAndGlyphs">183</text><text class="cm" x="76.5" y="0" font-size="50" textLength="79" lengthAdjust="spacingAndGlyphs">cm</text></g><g transform="translate(149 626) rotate(-90)"><text class="b" x="-1.5" y="0" font-size="51.5" textLength="53" lengthAdjust="spacingAndGlyphs">85</text><text class="cm" x="52.5" y="0" font-size="50" textLength="81" lengthAdjust="spacingAndGlyphs">cm</text></g><g transform="translate(229 636) rotate(-90)"><text class="b" x="-1.5" y="0" font-size="51.5" textLength="54" lengthAdjust="spacingAndGlyphs">72</text><text class="cm" x="53.5" y="0" font-size="50" textLength="78" lengthAdjust="spacingAndGlyphs">cm</text></g><g transform="translate(600.7 410) rotate(-2.5)"><text class="b" x="-1.5" y="0" font-size="51.5" textLength="55" lengthAdjust="spacingAndGlyphs">70</text><text class="cm" x="53.5" y="0" font-size="50" textLength="81" lengthAdjust="spacingAndGlyphs">cm</text></g><g transform="translate(424.5 458.5) rotate(16)"><text class="b" x="-1.5" y="0" font-size="51.5" textLength="53" lengthAdjust="spacingAndGlyphs">14</text><text class="cm" x="50.5" y="0" font-size="50" textLength="80" lengthAdjust="spacingAndGlyphs">cm</text></g><g transform="translate(988 351.5) rotate(87.5)"><text class="b" x="-1.5" y="0" font-size="51.5" textLength="55.5" lengthAdjust="spacingAndGlyphs">40</text><text class="cm" x="54.5" y="0" font-size="50" textLength="79.5" lengthAdjust="spacingAndGlyphs">cm</text></g><g transform="translate(1026 519) rotate(22)"><text class="b" x="-1.5" y="0" font-size="51.5" textLength="56" lengthAdjust="spacingAndGlyphs">66</text><text class="cm" x="54.5" y="0" font-size="50" textLength="78" lengthAdjust="spacingAndGlyphs">cm</text></g><g transform="translate(930.3 631) rotate(-11.3)"><text class="b" x="-1.5" y="0" font-size="51.5" textLength="81" lengthAdjust="spacingAndGlyphs">150</text><text class="cm" x="79.5" y="0" font-size="50" textLength="80" lengthAdjust="spacingAndGlyphs">cm</text></g><g transform="translate(576.4 638.5) rotate(-5)"><text class="b" x="-1.5" y="0" font-size="51.5" textLength="55.4" lengthAdjust="spacingAndGlyphs">35</text><text class="cm" x="54.5" y="0" font-size="50" textLength="80" lengthAdjust="spacingAndGlyphs">cm</text></g><g transform="translate(356.8 621) rotate(15)"><text class="b" x="-1.5" y="0" font-size="51.5" textLength="50" lengthAdjust="spacingAndGlyphs">94</text><text class="cm" x="48.5" y="0" font-size="50" textLength="79" lengthAdjust="spacingAndGlyphs">cm</text></g><g transform="translate(572 830) rotate(-93)"><text class="b" x="-1.5" y="0" font-size="51.5" textLength="53" lengthAdjust="spacingAndGlyphs">57</text><text class="cm" x="50.5" y="0" font-size="50" textLength="82" lengthAdjust="spacingAndGlyphs">cm</text></g><g transform="translate(1034 781) rotate(-90)"><text class="b" x="-1.5" y="0" font-size="51.5" textLength="55" lengthAdjust="spacingAndGlyphs">45</text><text class="cm" x="53.5" y="0" font-size="50" textLength="81" lengthAdjust="spacingAndGlyphs">cm</text></g><g transform="translate(1404 534.5) rotate(12)"><text class="b" x="-1.5" y="0" font-size="51.5" textLength="73" lengthAdjust="spacingAndGlyphs">147</text><text class="cm" x="73.5" y="0" font-size="50" textLength="79" lengthAdjust="spacingAndGlyphs">cm</text></g><g transform="translate(1675 597) rotate(-18)"><text class="b" x="-1.5" y="0" font-size="51.5" textLength="53" lengthAdjust="spacingAndGlyphs">90</text><text class="cm" x="51.5" y="0" font-size="50" textLength="80" lengthAdjust="spacingAndGlyphs">cm</text></g><g transform="translate(1538.5 740) rotate(-90)"><text class="b" x="-1.5" y="0" font-size="51.5" textLength="56" lengthAdjust="spacingAndGlyphs">27</text><text class="cm" x="54.5" y="0" font-size="50" textLength="79" lengthAdjust="spacingAndGlyphs">cm</text></g><g transform="translate(1635 805) rotate(90)"><text class="b" x="-1.5" y="0" font-size="51.5" textLength="25" lengthAdjust="spacingAndGlyphs">5</text><text class="cm" x="28.5" y="0" font-size="50" textLength="74" lengthAdjust="spacingAndGlyphs">cm</text></g><g transform="translate(1201 1014) rotate(4.5)"><text class="b" x="-1.5" y="0" font-size="51.5" textLength="58" lengthAdjust="spacingAndGlyphs">35</text><text class="cm" x="55.5" y="0" font-size="50" textLength="78" lengthAdjust="spacingAndGlyphs">cm</text></g><g transform="translate(1220 1136) rotate(9)"><text class="b" x="-1.5" y="0" font-size="51.5" textLength="45" lengthAdjust="spacingAndGlyphs">16</text><text class="cm" x="45.5" y="0" font-size="50" textLength="80" lengthAdjust="spacingAndGlyphs">cm</text></g><text x="584" y="1256.5" font-size="56" style="fill:#6d6e70;font-weight:bold" textLength="242" lengthAdjust="spacingAndGlyphs">130 x 220</text></g>
</svg>
</body></html>
